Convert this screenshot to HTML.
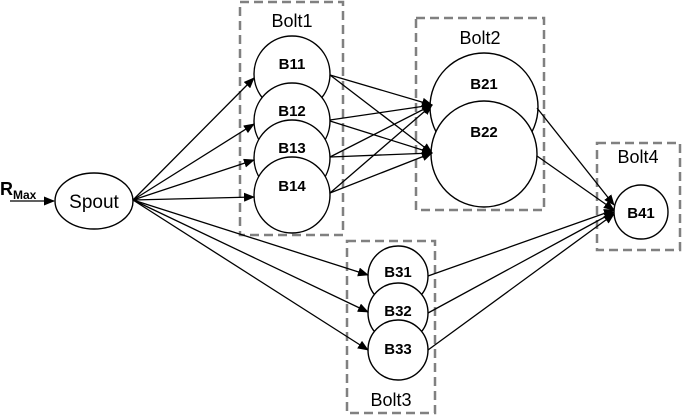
<!DOCTYPE html>
<html><head><meta charset="utf-8"><style>body{margin:0;background:#fff}svg{display:block}</style></head><body>
<svg width="685" height="415" viewBox="0 0 685 415" xmlns="http://www.w3.org/2000/svg" font-family="Liberation Sans, sans-serif">
<defs><marker id="a" markerWidth="11" markerHeight="9" refX="10" refY="4.5" orient="auto" markerUnits="userSpaceOnUse"><path d="M0,0 L11,4.5 L0,9z" fill="#000"/></marker></defs>
<g fill="none" stroke="#808080" stroke-width="2.5" stroke-dasharray="9,5">
<rect x="240" y="2" width="103" height="233"/>
<rect x="416" y="18" width="128" height="192"/>
<rect x="347" y="241" width="88" height="172"/>
<rect x="597" y="143" width="83" height="107"/>
</g>
<g font-size="18" fill="#000" text-anchor="middle">
<text x="292" y="27">Bolt1</text><text x="480" y="44">Bolt2</text><text x="391" y="406">Bolt3</text><text x="638" y="163">Bolt4</text>
</g>
<g stroke="#000" stroke-width="1.4" fill="#fff">
<circle cx="292" cy="74" r="38"/><circle cx="292" cy="121" r="38"/><circle cx="292" cy="158" r="38"/><circle cx="292" cy="195" r="38"/>
<circle cx="484" cy="107" r="54"/><circle cx="484" cy="154" r="53"/>
<circle cx="398" cy="276" r="30"/><circle cx="398" cy="313" r="30"/><circle cx="398" cy="350" r="30"/>
<circle cx="641" cy="212" r="27"/>
<ellipse cx="94" cy="201" rx="39" ry="28"/>
</g>
<g stroke="#000" stroke-width="1.3" marker-end="url(#a)">
<line x1="10" y1="201" x2="54" y2="201"/>
<line x1="133" y1="200" x2="254" y2="78"/><line x1="133" y1="200" x2="254" y2="124"/><line x1="133" y1="200" x2="254" y2="160"/><line x1="133" y1="200" x2="254" y2="197"/>
<line x1="133" y1="200" x2="368" y2="275"/><line x1="133" y1="200" x2="368" y2="312"/><line x1="133" y1="200" x2="368" y2="350"/>
<line x1="330" y1="75" x2="432" y2="105"/><line x1="330" y1="75" x2="432" y2="153"/>
<line x1="330" y1="120" x2="432" y2="105"/><line x1="330" y1="121" x2="432" y2="153"/>
<line x1="330" y1="157" x2="432" y2="105"/><line x1="330" y1="157" x2="432" y2="153"/>
<line x1="330" y1="193" x2="432" y2="105"/><line x1="330" y1="193" x2="432" y2="153"/>
<line x1="537" y1="108" x2="614" y2="205"/><line x1="537" y1="156" x2="614" y2="210"/>
<line x1="428" y1="276" x2="614" y2="210"/><line x1="428" y1="313" x2="614" y2="212"/><line x1="428" y1="350" x2="614" y2="214"/>
</g>
<g font-size="15" font-weight="bold" text-anchor="middle" fill="#000">
<text x="292" y="69">B11</text><text x="292" y="116">B12</text><text x="292" y="153">B13</text><text x="292" y="191">B14</text>
<text x="484" y="89">B21</text><text x="484" y="137">B22</text>
<text x="398" y="277">B31</text><text x="398" y="316">B32</text><text x="398" y="354">B33</text>
<text x="641" y="218">B41</text>
</g>
<text x="94" y="208" font-size="19" text-anchor="middle">Spout</text>
<text x="0" y="195" font-size="18" font-weight="bold">R<tspan font-size="12" dy="4">Max</tspan></text>
</svg>
</body></html>
